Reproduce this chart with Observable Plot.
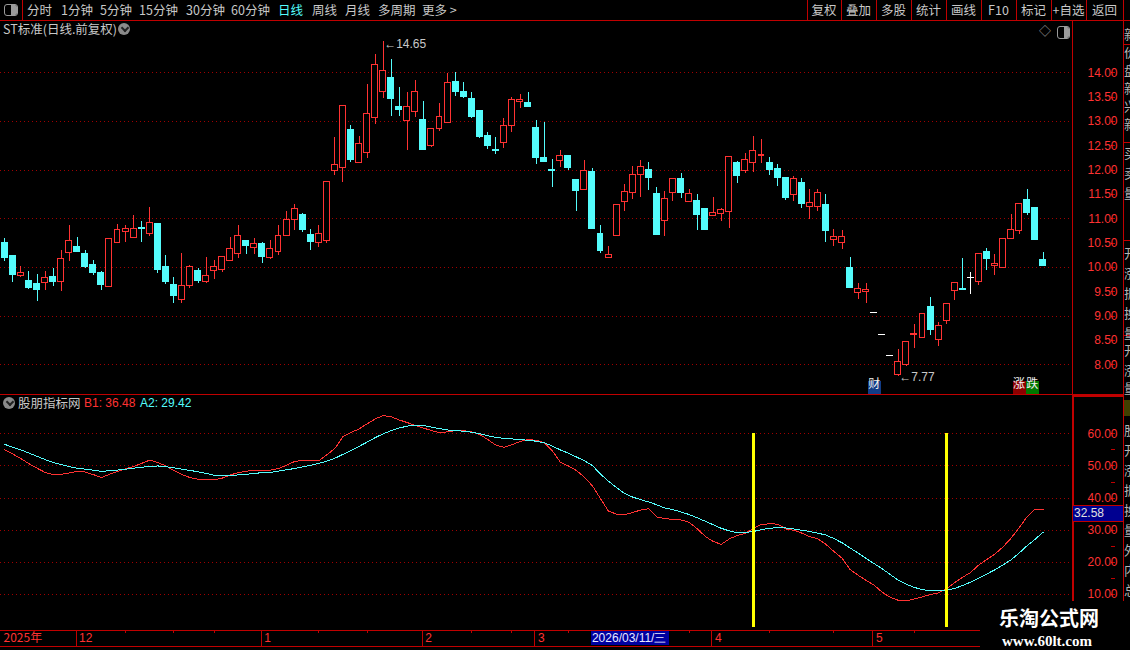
<!DOCTYPE html>
<html><head><meta charset="utf-8">
<script src="https://cdn.jsdelivr.net/npm/d3@7"></script>
<script src="https://cdn.jsdelivr.net/npm/@observablehq/plot@0.6"></script>
<style>
html,body{margin:0;padding:0;background:#000;}
#stage{position:relative;width:1130px;height:650px;overflow:hidden;background:#000;font-family:"Noto Sans CJK SC","Liberation Sans",sans-serif;color:#c8c8c8;}
.a{position:absolute;white-space:nowrap;line-height:1;}
.hl{position:absolute;height:1px;background:#c00000;}
.vl{position:absolute;width:1px;background:#c00000;}
.num{font-family:"Liberation Sans",Arial,sans-serif;}
</style></head>
<body><div id="stage"></div>
<script>
// ---------------- data ----------------
const opens = [10.51,10.23,9.82,9.73,9.67,9.68,9.80,9.70,10.30,10.43,
10.27,10.06,9.88,9.60,10.51,10.73,10.61,10.82,10.69,10.90,
10.00,9.65,9.34,9.62,9.92,9.71,9.93,9.95,10.14,10.27,
10.55,10.40,10.49,10.19,10.32,10.65,10.98,11.07,10.67,10.51,
10.55,11.99,12.05,12.82,12.15,12.36,13.08,13.61,13.90,13.29,
13.01,13.20,13.04,12.50,12.85,12.97,13.82,13.60,13.47,13.21,
12.71,12.41,12.56,12.90,13.40,13.37,12.86,12.24,12.00,12.18,
12.30,11.79,11.59,11.97,10.69,10.19,10.64,11.35,11.52,11.90,
12.00,11.50,10.95,11.54,11.82,11.35,11.37,11.20,11.06,11.10,
11.14,12.14,11.98,12.14,12.30,12.14,12.03,11.83,11.49,11.73,
11.24,11.24,11.29,10.56,10.51,9.99,9.48,9.50,9.07,8.63,
8.19,7.79,7.99,8.62,8.56,9.18,8.52,8.89,9.52,9.55,
9.80,9.70,10.31,10.03,9.99,10.59,10.75,11.39,11.23,10.16];
const highs = [10.59,10.23,10.02,9.92,9.86,9.92,9.98,10.35,10.86,10.62,
10.35,10.14,9.92,10.59,10.88,10.86,11.07,10.95,11.23,10.90,
10.25,9.80,10.29,10.04,9.97,10.21,10.14,10.22,10.62,10.86,
10.55,10.59,10.52,10.55,10.86,11.15,11.30,11.11,10.77,10.86,
11.76,12.67,13.32,12.91,12.69,13.76,14.38,14.65,14.27,13.70,
13.60,13.84,13.41,12.85,13.37,13.99,14.00,13.80,13.60,13.21,
12.77,12.68,13.06,13.49,13.56,13.60,13.02,12.97,12.22,12.40,
12.30,11.79,12.20,12.03,10.86,10.43,11.29,11.70,12.08,12.20,
12.16,11.65,11.57,11.82,11.93,11.61,11.50,11.20,11.44,11.21,
12.28,12.18,12.34,12.69,12.63,12.26,12.12,11.83,11.87,11.83,
11.61,11.60,11.50,10.77,10.76,10.21,9.68,9.67,9.07,8.63,
8.19,8.31,8.46,8.83,9.05,9.39,8.87,9.24,9.69,10.19,
9.90,10.28,10.40,10.27,10.59,11.09,11.31,11.60,11.23,10.31];
const lows = [10.13,9.70,9.79,9.54,9.31,9.53,9.61,9.51,10.13,10.30,
9.98,9.84,9.53,9.58,10.51,10.52,10.61,10.52,10.64,9.88,
9.64,9.27,9.27,9.56,9.68,9.68,9.76,9.90,10.14,10.19,
10.27,10.27,10.08,10.16,10.25,10.65,10.75,10.71,10.34,10.42,
10.50,11.89,11.75,12.16,12.15,12.23,12.93,13.48,13.11,13.11,
12.41,13.08,12.41,12.47,12.80,12.97,13.52,13.48,13.07,12.66,
12.43,12.33,12.45,12.78,13.27,13.29,12.12,12.16,11.65,12.06,
11.99,11.16,11.59,10.79,10.28,10.18,10.64,11.16,11.40,11.44,
11.59,10.66,10.64,11.36,11.41,11.35,10.75,10.75,11.06,10.94,
10.80,11.73,11.93,11.96,12.14,11.90,11.67,11.38,11.36,11.22,
10.99,11.14,10.52,10.43,10.36,9.58,9.35,9.27,9.07,8.63,
8.19,7.77,7.97,8.33,8.56,8.61,8.37,8.83,9.33,9.54,
9.45,9.62,9.93,9.84,9.97,10.59,10.68,11.07,10.56,10.03];
const closes = [10.19,9.84,9.89,9.58,9.53,9.79,9.70,10.18,10.55,10.31,
10.01,9.88,9.64,10.59,10.77,10.80,10.80,10.79,10.92,9.94,
9.70,9.41,9.62,10.00,9.72,9.83,10.00,10.22,10.38,10.65,
10.44,10.49,10.21,10.38,10.65,10.98,11.21,10.77,10.52,10.69,
11.76,12.11,13.32,12.21,12.54,13.16,14.16,14.04,13.46,13.24,
13.30,13.61,12.41,12.85,13.10,13.80,13.60,13.50,13.09,12.68,
12.49,12.40,12.91,13.45,13.45,13.29,12.25,12.16,11.99,12.30,
12.04,11.57,11.99,10.79,10.33,10.26,11.29,11.56,11.91,12.07,
11.84,10.66,11.41,11.82,11.53,11.50,11.07,10.77,11.11,11.18,
12.28,11.87,12.21,12.40,12.32,12.00,11.83,11.42,11.82,11.31,
11.33,11.52,10.75,10.63,10.63,9.58,9.56,9.54,9.07,8.63,
8.19,8.05,8.46,8.64,9.05,8.72,8.79,9.24,9.69,9.54,
9.80,10.28,10.17,10.08,10.59,10.76,11.31,11.11,10.56,10.03];
const b1 = [55.0,53.7,52.3,50.7,49.3,48.0,47.3,47.4,47.8,48.3,
48.1,47.3,46.4,47.4,48.3,49.1,49.8,50.8,51.8,51.1,
50.0,48.6,47.3,46.4,45.9,45.7,45.7,46.2,47.2,47.9,
48.4,48.5,48.6,48.7,49.2,50.2,51.4,51.7,51.7,51.6,
53.5,55.4,59.1,60.4,61.5,63.1,64.6,65.7,65.3,64.3,
63.5,62.6,61.8,61.0,60.4,60.6,61.0,61.0,60.6,59.8,
58.2,56.5,55.8,56.6,57.6,58.2,58.0,57.2,54.8,51.2,
50.0,48.6,46.5,43.8,39.8,35.9,35.0,34.9,35.5,36.3,
36.7,34.1,33.6,33.4,33.2,32.5,30.5,28.1,26.5,25.6,
27.3,28.4,29.0,30.6,31.8,32.0,31.9,30.4,30.0,29.1,
28.0,27.3,25.6,23.4,21.3,17.8,16.0,14.4,12.9,10.7,
9.1,8.2,8.0,8.6,9.3,10.0,10.5,11.8,13.7,15.4,
16.9,19.2,20.9,22.6,24.8,27.5,30.8,34.2,36.6,36.48];
const a2 = [56.7,55.8,55.0,54.0,53.0,52.0,51.1,50.4,49.8,49.3,
49.0,48.7,48.3,48.5,48.7,49.0,49.3,49.6,49.8,50.0,
49.8,49.4,49.0,48.6,48.2,47.7,47.1,46.9,47.0,47.2,
47.4,47.7,47.9,48.0,48.4,48.8,49.2,49.7,50.2,50.8,
51.5,52.4,53.6,54.8,56.1,57.4,58.8,60.0,61.0,61.8,
62.4,62.7,62.6,62.1,61.6,61.2,61.0,60.8,60.5,60.0,
59.4,58.9,58.6,58.4,58.2,58.0,57.7,57.2,56.2,55.0,
54.0,52.8,51.6,50.1,47.5,45.2,43.3,41.4,40.3,39.5,
38.8,37.9,36.9,36.4,35.7,34.9,33.9,32.8,31.7,30.6,
29.8,29.2,29.3,29.6,30.2,30.6,30.8,30.7,30.4,30.0,
29.6,29.1,28.5,27.4,26.1,24.5,22.9,21.2,19.6,18.0,
16.2,14.4,13.2,12.2,11.5,11.2,11.2,11.3,11.9,12.8,
13.9,15.1,16.4,17.7,19.2,20.8,22.9,25.2,27.2,29.42];
const signalIdx = [93, 117];
const signalLevel = 60;
const priceTicks = [8,8.5,9,9.5,10,10.5,11,11.5,12,12.5,13,13.5,14];
const priceGrid = [8,9,10,11,12,13,14];
const indTicks = [10,15,20,25,30,35,40,45,50,55,60];
const indGrid = [10,20,30,40,50,60];
const yearLabel = "2025年";
const monthLabels = ["12","1","2","3","4","5"];
const monthStart = [9,32,52,66,88,108];
const weekTicks = [15,21,26,39,45,58,63,70,78,85,95,103,113];
const cursorIdx = 73;
const cursorDate = "2026/03/11/三";
const cursorValue = "32.58";
const badgeIdx = [108,126,128];
const badgeText = ["财","涨","跌"];

// ---------------- styles ----------------
const RED="#ff3232", CYAN="#54fcfc", WHITE="#ffffff", AXIS="#c00000", GRID="#a00000", YEL="#ffff00", GRAY="#c8c8c8";
const NUMFONT = "Liberation Sans, Arial, sans-serif";
const CJK = "Noto Sans CJK SC, sans-serif";
const step = 8.05, firstX = 4.3, plotRight = 1072, svgW = 1123;
const xDomain = [-firstX/step, (plotRight-firstX)/step];
const badgeBg = {"财":"#123c86","涨":"#8c0000","跌":"#007800"};
const badgeShift = {"财":0,"涨":0,"跌":-3};

const stage = document.getElementById("stage");
const add = h => stage.insertAdjacentHTML("beforeend", h);
const place = (svg, top) => { svg.style.position="absolute"; svg.style.left="0px"; svg.style.top=top+"px"; stage.append(svg); };
const baseStyle = {background:"transparent", overflow:"visible", shapeRendering:"crispEdges", fontFamily:NUMFONT, fontSize:"12px", color:RED, maxWidth:"none"};

const candles = opens.map((o,i)=>({i,o,h:highs[i],l:lows[i],c:closes[i]}));
const col = d => d.c>d.o ? RED : d.c<d.o ? CYAN : WHITE;
const hiI = d3.maxIndex(highs), loI = d3.minIndex(lows);
const badges = badgeIdx.map((i,k)=>({i, t:badgeText[k]}));

// ---------------- main (price) panel ----------------
const mainH = 374; // y 20..394
const main = Plot.plot({
  width: svgW, height: mainH, marginLeft:0, marginRight: svgW-plotRight, marginTop:0, marginBottom:0,
  style: baseStyle,
  color: {type:"identity"},
  x: {type:"linear", domain:xDomain, axis:null},
  y: {domain:[7.390, 15.0746], axis:null},
  marks: [
    Plot.ruleY(priceGrid, {stroke:GRID, strokeDasharray:"1,3"}),
    Plot.ruleX(candles, {x:"i", y1:"h", y2:d=>Math.max(d.o,d.c), stroke:col}),
    Plot.ruleX(candles, {x:"i", y1:d=>Math.min(d.o,d.c), y2:"l", stroke:col}),
    Plot.rect(candles.filter(d=>d.o!==d.c), {x1:d=>d.i-0.37, x2:d=>d.i+0.37, y1:"o", y2:"c", fill:d=>d.c>d.o?"#000000":CYAN, stroke:col}),
    Plot.ruleY(candles.filter(d=>d.o===d.c), {y:"o", x1:d=>d.i-0.42, x2:d=>d.i+0.42, stroke:WHITE}),
    Plot.ruleX([xDomain[1]], {stroke:AXIS}),
    Plot.axisY({ticks:priceTicks, anchor:"right", tickSize:4, tickPadding:3, stroke:AXIS, fill:RED, fontSize:12, textAnchor:"end", dx:38, tickFormat:d=>d.toFixed(2)}),
    Plot.text([hiI], {x:d=>d, y:d=>highs[d], text:d=>"←"+highs[d].toFixed(2), textAnchor:"start", dx:1, dy:3, fill:GRAY, fontSize:12, fontFamily:NUMFONT}),
    Plot.text([loI], {x:d=>d, y:d=>lows[d], text:d=>"←"+lows[d].toFixed(2), textAnchor:"start", dx:1, dy:1, fill:GRAY, fontSize:12, fontFamily:NUMFONT}),
    ...badges.map(b => Plot.dot([b], {x:"i", frameAnchor:"bottom", dx:badgeShift[b.t], dy:-7, symbol:"square", r:7.3, fill:badgeBg[b.t], stroke:null})),
    ...badges.map(b => Plot.text([b], {x:"i", frameAnchor:"bottom", dx:badgeShift[b.t], dy:-7, text:"t", fill:"#f0f0f0", fontSize:12, fontFamily:CJK}))
  ]
});
place(main, 20);

// ---------------- indicator panel ----------------
const indH = 236; // y 394..630
const idx = d3.range(b1.length);
const ind = Plot.plot({
  width: svgW, height: indH, marginLeft:0, marginRight: svgW-plotRight, marginTop:0, marginBottom:0,
  style: baseStyle,
  x: {type:"linear", domain:xDomain, axis:null},
  y: {domain:[-1.2, 72.23], axis:null},
  marks: [
    Plot.ruleY(indGrid, {stroke:GRID, strokeDasharray:"1,3"}),
    Plot.line(idx, {x:d=>d, y:d=>b1[d], stroke:RED, strokeWidth:1}),
    Plot.line(idx, {x:d=>d, y:d=>a2[d], stroke:CYAN, strokeWidth:1}),
    Plot.ruleX(signalIdx, {x:d=>d, y1:signalLevel, y2:-0.3, stroke:YEL, strokeWidth:3}),
    Plot.ruleX([xDomain[1]], {stroke:AXIS, strokeWidth:2}),
    Plot.axisY({ticks:indTicks, anchor:"right", tickSize:4, tickPadding:3, stroke:AXIS, fill:RED, fontSize:12, textAnchor:"end", dx:38, tickFormat:d=>d%10===0?d.toFixed(2):""})
  ]
});
place(ind, 394);

// ---------------- date strip ----------------
const dates = Plot.plot({
  width: plotRight, height: 16, marginLeft:0, marginRight:0, marginTop:0, marginBottom:0,
  style: baseStyle,
  x: {type:"linear", domain:xDomain, axis:null},
  y: {domain:[0,16], axis:null},
  marks: [
    Plot.ruleX(monthStart, {x:d=>d-0.15, stroke:AXIS}),
    Plot.ruleX(weekTicks, {x:d=>d, y1:16, y2:13, stroke:AXIS}),
    Plot.text([yearLabel], {frameAnchor:"left", dx:3, text:d=>d, textAnchor:"start", fill:RED, fontSize:12, fontFamily:CJK}),
    Plot.text(monthStart, {x:d=>d-0.15, frameAnchor:"middle", text:(d,k)=>monthLabels[k], textAnchor:"start", dx:3, fill:RED, fontSize:12, fontFamily:NUMFONT})
  ]
});
place(dates, 630);

// cursor date box, positioned through the chart's x scale
const cx = main.scale("x").apply(cursorIdx);
add(`<div class="a num" style="left:${cx-1}px;top:631px;width:77px;height:14px;background:#0000a0;color:#e8e8ff;font-size:12px;line-height:14px;padding-left:1px">${cursorDate}</div>`);

// ---------------- chrome ----------------
// toolbar
const tbItems = ["分时","1分钟","5分钟","15分钟","30分钟","60分钟","日线","周线","月线","多周期","更多 >"];
const tbLeft = [27,61,100,139,186,231,278,312,345,378,422];
tbItems.forEach((t,k)=>add(`<div class="a" style="left:${tbLeft[k]}px;top:4px;font-size:12.5px;color:${t==="日线"?CYAN:GRAY}">${t}</div>`));
const btns = ["复权","叠加","多股","统计","画线","F10","标记","+自选","返回"];
const seps = [807,841,876,911,946,981,1016,1051,1086,1123];
btns.forEach((t,k)=>add(`<div class="a" style="left:${seps[k]}px;width:${seps[k+1]-seps[k]}px;text-align:center;top:4px;font-size:12.5px;color:${GRAY}">${t}</div>`));
seps.forEach(x=>add(`<div class="vl" style="left:${x}px;top:0;height:20px"></div>`));
add(`<div class="vl" style="left:22px;top:0;height:20px"></div>`);
add(`<div class="a" style="left:4px;top:4px;width:12px;height:10px;border:1px solid #9a9a9a;border-radius:3px;overflow:hidden"><div style="position:absolute;right:0;top:0;width:6px;height:10px;background:#9a9a9a"></div></div>`);
add(`<div class="hl" style="left:0;top:20px;width:1130px"></div>`);

// main header
add(`<div class="a" style="left:3px;top:23px;font-size:12.5px;color:${GRAY}">ST标准(日线.前复权)</div>`);
add(`<div class="a" style="left:118px;top:23px;width:12px;height:12px;border-radius:6px;background:#8a8a8a"><div style="position:absolute;left:3.5px;top:2px;width:4px;height:4px;border-right:2px solid #222;border-bottom:2px solid #222;transform:rotate(45deg)"></div></div>`);
add(`<div class="a" style="left:1039px;top:25px;font-size:12px;color:#9a9a9a">◇</div>`);
add(`<div class="a" style="left:1057px;top:26px;width:11px;height:11px;border:1px solid #9a9a9a;border-radius:3px;overflow:hidden"><div style="position:absolute;right:0;top:0;width:5px;height:11px;background:#9a9a9a"></div></div>`);

// indicator header
add(`<div class="a" style="left:3px;top:397px;width:12px;height:12px;border-radius:6px;background:#8a8a8a"><div style="position:absolute;left:3.5px;top:2px;width:4px;height:4px;border-right:2px solid #222;border-bottom:2px solid #222;transform:rotate(45deg)"></div></div>`);
add(`<div class="a" style="left:18px;top:397px;font-size:12.5px;color:${GRAY}">股朋指标网</div>`);
add(`<div class="a num" style="left:84px;top:397px;font-size:12px;color:${RED}">B1: ${b1[b1.length-1].toFixed(2)}</div>`);
add(`<div class="a num" style="left:140px;top:397px;font-size:12px;color:${CYAN}">A2: ${a2[a2.length-1].toFixed(2)}</div>`);

// cursor value box on the indicator axis
add(`<div class="a num" style="left:1073px;top:505px;width:49px;height:15px;background:#000090;border-top:1px solid #c00000;border-bottom:1px solid #c00000;color:#e0e0e0;font-size:12px;line-height:15px;padding-left:1px">${cursorValue}</div>`);

// frame lines
add(`<div class="hl" style="left:0;top:394px;width:1123px"></div>`);
add(`<div class="hl" style="left:1073px;top:394px;width:50px;height:3px"></div>`);
add(`<div class="hl" style="left:0;top:630px;width:1072px"></div>`);
add(`<div class="hl" style="left:0;top:646px;width:1072px"></div>`);
add(`<div class="vl" style="left:1123px;top:20px;height:630px"></div>`);
[44,142,240,335].forEach(y=>add(`<div class="hl" style="left:1123px;top:${y}px;width:7px"></div>`));

// clipped side panel glyphs (the reference shows only their left edges)
let side = `<div class="a" style="left:1124px;top:21px;width:6px;height:629px;overflow:hidden">`;
const sideRows = [[6,"新"],[24,"价"],[42,"盘"],[60,"新"],[78,"兴"],[96,"新"],[125,"买"],[145,"卖"],[165,"量"],[225,"开"],[245,"涨"],[265,"振"],[285,"换"],[305,"量"],[322,"开"],[342,"涨"],[360,"量"],[402,"股"],[422,"开"],[442,"涨"],[462,"振"],[482,"换"],[502,"量"],[522,"外"],[542,"内"],[562,"总"]];
sideRows.forEach(([y,t])=>side += `<div class="a" style="left:0;top:${y}px;font-size:13px;color:#b4b4b4">${t}</div>`);
side += `</div>`;
add(side);
add(`<div class="a" style="left:1124px;top:400px;width:6px;height:16px;background:#404000"></div>`);

// watermark
add(`<div class="a" style="left:980px;top:601px;width:150px;height:49px;background:#000"></div>`);
add(`<div class="a" style="left:999px;top:608px;font-size:20px;font-weight:bold;color:#ffffff;font-family:${CJK}">乐淘公式网</div>`);
add(`<div class="a" style="left:1002px;top:634px;font-size:15px;font-weight:bold;color:#ffffff;font-family:'Liberation Serif',serif">www.60lt.com</div>`);
</script></body></html>
